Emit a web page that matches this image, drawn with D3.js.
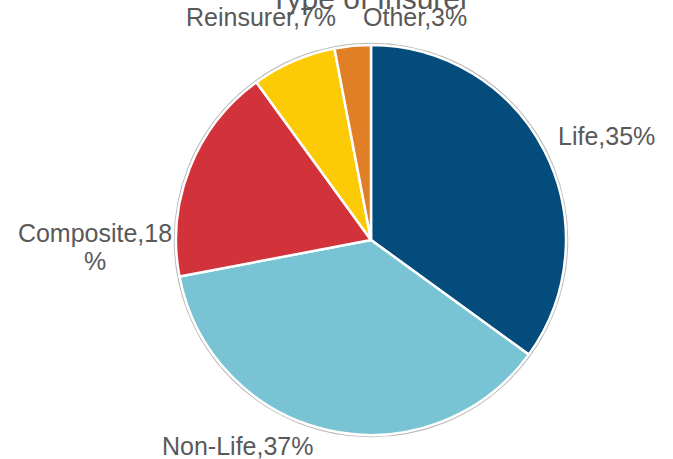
<!DOCTYPE html>
<html>
<head>
<meta charset="utf-8">
<script src="https://cdn.jsdelivr.net/npm/d3@7"></script>
<style>
  html, body { margin: 0; padding: 0; background: #fff; overflow: hidden; }
  svg { display: block; }
</style>
</head>
<body>
<svg id="chart" width="673" height="459"></svg>
<script>
// Share of respondents by type of insurer
const categories = ["Life", "Non-Life", "Composite", "Reinsurer", "Other"];
const shares = [35, 37, 18, 7, 3];
const colors = ["#034C7B", "#78C4D4", "#D23239", "#FCCB06", "#E17F26"];
const title = "Type of Insurer";

// Label anchors (left x, baseline y) for each slice label
const labelPos = [
  { x: 558, y: 145, anchor: "start" },
  { x: 162, y: 455, anchor: "start" },
  { x: 95, y: 242, anchor: "middle", wrap: ["Composite,18", "%"] },
  { x: 186, y: 26, anchor: "start" },
  { x: 363, y: 26, anchor: "start" }
];

const svg = d3.select("#chart");
const cx = 371, cy = 240, r = 195;

const data = categories.map((c, i) => ({ name: c, value: shares[i], color: colors[i] }));

const pie = d3.pie().value(d => d.value).sort(null);
const arc = d3.arc().innerRadius(0).outerRadius(r);

const g = svg.append("g").attr("transform", `translate(${cx},${cy})`);

// thin grey rim around the whole pie
g.append("circle")
  .attr("r", r + 1.5)
  .attr("fill", "none")
  .attr("stroke", "#b8b8b8")
  .attr("stroke-width", 1.5);

g.selectAll("path.slice")
  .data(pie(data))
  .join("path")
  .attr("class", "slice")
  .attr("d", arc)
  .attr("fill", d => d.data.color)
  .attr("stroke", "#fff")
  .attr("stroke-width", 2.5)
  .attr("stroke-linejoin", "round");

// Title (sits partly above the top edge)
svg.append("text")
  .attr("x", 370)
  .attr("y", 9)
  .attr("text-anchor", "middle")
  .attr("font-family", "Liberation Sans, Arial, sans-serif")
  .attr("font-size", 30)
  .attr("fill", "#595959")
  .text(title);

// Slice labels
const labels = svg.append("g")
  .attr("font-family", "Liberation Sans, Arial, sans-serif")
  .attr("font-size", 25)
  .attr("fill", "#595959");

data.forEach((d, i) => {
  const p = labelPos[i];
  const t = labels.append("text")
    .attr("x", p.x)
    .attr("y", p.y)
    .attr("text-anchor", p.anchor);
  const lines = p.wrap || [`${d.name},${d.value}%`];
  lines.forEach((ln, k) => {
    t.append("tspan")
      .attr("x", p.x)
      .attr("dy", k === 0 ? 0 : 28)
      .text(ln);
  });
});
</script>
</body>
</html>
